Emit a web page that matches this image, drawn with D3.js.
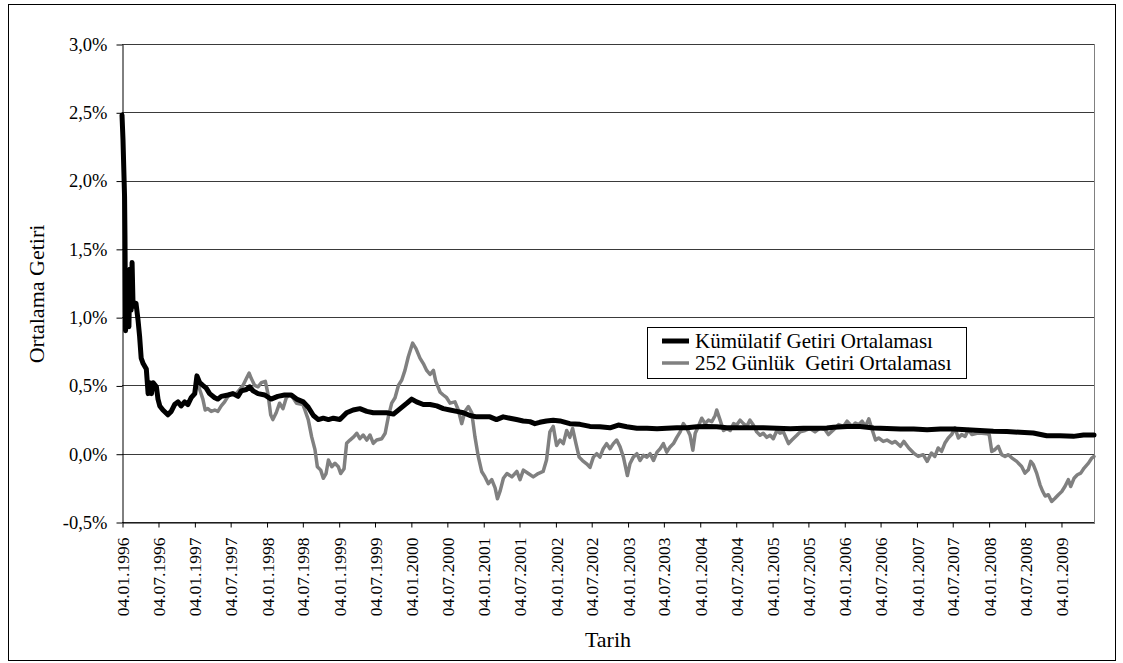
<!DOCTYPE html>
<html>
<head>
<meta charset="utf-8">
<script src="https://cdn.jsdelivr.net/npm/d3@7"></script>
<style>
  html, body { margin: 0; padding: 0; background: #fff; }
  svg { display: block; }
  svg text { font-family: "Liberation Serif", "Times New Roman", serif; fill: #000; }
</style>
</head>
<body>
<svg id="chart" width="1123" height="663"></svg>
<script>
// Axis labels
const xTickLabels = [
  "04.01.1996", "04.07.1996", "04.01.1997", "04.07.1997", "04.01.1998", "04.07.1998",
  "04.01.1999", "04.07.1999", "04.01.2000", "04.07.2000", "04.01.2001", "04.07.2001",
  "04.01.2002", "04.07.2002", "04.01.2003", "04.07.2003", "04.01.2004", "04.07.2004",
  "04.01.2005", "04.07.2005", "04.01.2006", "04.07.2006", "04.01.2007", "04.07.2007",
  "04.01.2008", "04.07.2008", "04.01.2009"
];
const yTickValues = [-0.5, 0, 0.5, 1.0, 1.5, 2.0, 2.5, 3.0];
const seriesNames = ["Kümülatif Getiri Ortalaması", "252 Günlük  Getiri Ortalaması"];
const xTitle = "Tarih";
const yTitle = "Ortalama Getiri";

// Cumulative average return (%)
const kumulatif = [
  ["1996-01-04", 2.48], ["1996-01-09", 2.30], ["1996-01-17", 1.88], ["1996-01-19", 1.60],
  ["1996-01-22", 0.90], ["1996-01-26", 1.25], ["1996-01-29", 0.95], ["1996-02-03", 1.32],
  ["1996-02-08", 0.93], ["1996-02-13", 1.35], ["1996-02-19", 1.05], ["1996-02-24", 1.40],
  ["1996-02-29", 1.08], ["1996-03-07", 1.08], ["1996-03-15", 1.10], ["1996-03-25", 0.98],
  ["1996-04-02", 0.86], ["1996-04-10", 0.70], ["1996-04-20", 0.66], ["1996-05-06", 0.62],
  ["1996-05-15", 0.44], ["1996-05-23", 0.52], ["1996-06-01", 0.44], ["1996-06-09", 0.52],
  ["1996-06-26", 0.49], ["1996-07-04", 0.40], ["1996-07-13", 0.35], ["1996-07-29", 0.32],
  ["1996-08-23", 0.285], ["1996-09-09", 0.31], ["1996-09-26", 0.36], ["1996-10-13", 0.38],
  ["1996-10-29", 0.35], ["1996-11-16", 0.38], ["1996-12-02", 0.36], ["1996-12-19", 0.41],
  ["1997-01-06", 0.44], ["1997-01-17", 0.57], ["1997-01-31", 0.52], ["1997-02-16", 0.50],
  ["1997-03-05", 0.48], ["1997-03-22", 0.44], ["1997-04-17", 0.41], ["1997-05-03", 0.40],
  ["1997-05-20", 0.42], ["1997-06-23", 0.43], ["1997-07-18", 0.44], ["1997-08-13", 0.42],
  ["1997-08-29", 0.46], ["1997-09-24", 0.47], ["1997-10-11", 0.49], ["1997-10-28", 0.46],
  ["1997-11-22", 0.44], ["1997-12-26", 0.43], ["1998-01-27", 0.40], ["1998-03-02", 0.42],
  ["1998-04-05", 0.43], ["1998-05-09", 0.43], ["1998-06-05", 0.40], ["1998-07-09", 0.38],
  ["1998-08-03", 0.34], ["1998-08-29", 0.28], ["1998-09-23", 0.25], ["1998-10-18", 0.26],
  ["1998-11-13", 0.25], ["1998-12-08", 0.26], ["1999-01-10", 0.25], ["1999-02-13", 0.30],
  ["1999-03-18", 0.32], ["1999-04-21", 0.33], ["1999-05-26", 0.31], ["1999-06-28", 0.30],
  ["1999-08-02", 0.30], ["1999-09-04", 0.30], ["1999-10-08", 0.29], ["1999-11-11", 0.33],
  ["1999-12-15", 0.37], ["2000-01-08", 0.40], ["2000-02-02", 0.38], ["2000-03-07", 0.36],
  ["2000-04-10", 0.36], ["2000-05-14", 0.35], ["2000-06-16", 0.33], ["2000-07-20", 0.32],
  ["2000-08-23", 0.31], ["2000-09-25", 0.30], ["2000-10-29", 0.28], ["2000-12-02", 0.27],
  ["2001-01-04", 0.27], ["2001-02-07", 0.27], ["2001-03-12", 0.25], ["2001-04-15", 0.27],
  ["2001-05-19", 0.26], ["2001-06-21", 0.25], ["2001-07-25", 0.24], ["2001-08-28", 0.235],
  ["2001-09-22", 0.22], ["2001-10-17", 0.23], ["2001-11-20", 0.24], ["2001-12-24", 0.245],
  ["2002-01-27", 0.24], ["2002-03-18", 0.22], ["2002-05-08", 0.215], ["2002-06-28", 0.20],
  ["2002-08-17", 0.197], ["2002-10-07", 0.19], ["2002-11-18", 0.21], ["2002-12-31", 0.197],
  ["2003-02-20", 0.187], ["2003-04-12", 0.187], ["2003-06-02", 0.182], ["2003-07-21", 0.187],
  ["2003-09-10", 0.19], ["2003-10-31", 0.19], ["2003-12-20", 0.197], ["2004-02-08", 0.20],
  ["2004-03-30", 0.197], ["2004-05-20", 0.19], ["2004-07-09", 0.19], ["2004-09-14", 0.19],
  ["2004-11-20", 0.19], ["2005-01-28", 0.187], ["2005-04-06", 0.182], ["2005-06-12", 0.187],
  ["2005-08-18", 0.187], ["2005-10-08", 0.188], ["2005-11-11", 0.194], ["2006-01-18", 0.20],
  ["2006-03-26", 0.20], ["2006-06-02", 0.189], ["2006-08-08", 0.184], ["2006-10-15", 0.181],
  ["2006-12-21", 0.181], ["2007-02-27", 0.176], ["2007-05-05", 0.181], ["2007-07-09", 0.181],
  ["2007-09-15", 0.176], ["2007-11-21", 0.17], ["2008-01-28", 0.164], ["2008-04-05", 0.162],
  ["2008-06-11", 0.157], ["2008-08-17", 0.152], ["2008-10-24", 0.132], ["2008-12-30", 0.132],
  ["2009-03-08", 0.127], ["2009-04-28", 0.137], ["2009-06-20", 0.137]
];

// 252-day rolling average return (%)
const gunluk252 = [
  ["1997-01-06", 0.44], ["1997-01-17", 0.54], ["1997-01-31", 0.47], ["1997-02-16", 0.40],
  ["1997-02-28", 0.32], ["1997-03-13", 0.33], ["1997-03-30", 0.31], ["1997-04-17", 0.32],
  ["1997-05-03", 0.31], ["1997-05-20", 0.35], ["1997-06-06", 0.38], ["1997-06-23", 0.42],
  ["1997-07-10", 0.44], ["1997-08-04", 0.44], ["1997-08-21", 0.47], ["1997-09-07", 0.50],
  ["1997-09-24", 0.55], ["1997-10-08", 0.59], ["1997-10-19", 0.55], ["1997-11-05", 0.50],
  ["1997-11-22", 0.49], ["1997-12-09", 0.52], ["1997-12-29", 0.53], ["1998-01-11", 0.44],
  ["1998-01-25", 0.285], ["1998-02-05", 0.25], ["1998-02-22", 0.30], ["1998-03-11", 0.37],
  ["1998-03-28", 0.33], ["1998-04-14", 0.41], ["1998-05-01", 0.43], ["1998-05-18", 0.41],
  ["1998-06-05", 0.37], ["1998-07-07", 0.36], ["1998-07-17", 0.32], ["1998-08-03", 0.25],
  ["1998-08-20", 0.125], ["1998-09-06", 0.03], ["1998-09-18", -0.095], ["1998-10-05", -0.12],
  ["1998-10-18", -0.18], ["1998-11-01", -0.145], ["1998-11-13", -0.046], ["1998-11-30", -0.095],
  ["1998-12-16", -0.07], ["1999-01-02", -0.095], ["1999-01-14", -0.145], ["1999-01-31", -0.11],
  ["1999-02-13", 0.076], ["1999-03-02", 0.10], ["1999-03-22", 0.125], ["1999-04-05", 0.15],
  ["1999-04-21", 0.11], ["1999-05-08", 0.137], ["1999-05-26", 0.10], ["1999-06-11", 0.137],
  ["1999-06-28", 0.076], ["1999-07-15", 0.10], ["1999-08-10", 0.11], ["1999-08-27", 0.15],
  ["1999-09-12", 0.27], ["1999-09-29", 0.37], ["1999-10-16", 0.41], ["1999-11-02", 0.50],
  ["1999-11-19", 0.54], ["1999-12-05", 0.61], ["1999-12-22", 0.71], ["2000-01-13", 0.81],
  ["2000-01-30", 0.77], ["2000-02-19", 0.70], ["2000-03-07", 0.66], ["2000-03-24", 0.61],
  ["2000-04-10", 0.58], ["2000-04-27", 0.61], ["2000-05-09", 0.53], ["2000-05-31", 0.45],
  ["2000-06-16", 0.43], ["2000-07-03", 0.41], ["2000-07-20", 0.37], ["2000-08-14", 0.38],
  ["2000-08-31", 0.32], ["2000-09-17", 0.22], ["2000-10-04", 0.31], ["2000-10-21", 0.345],
  ["2000-11-07", 0.30], ["2000-11-23", 0.125], ["2000-12-10", -0.022], ["2000-12-27", -0.13],
  ["2001-01-13", -0.17], ["2001-01-30", -0.22], ["2001-02-16", -0.19], ["2001-03-05", -0.25],
  ["2001-03-17", -0.33], ["2001-03-31", -0.27], ["2001-04-16", -0.18], ["2001-05-04", -0.145],
  ["2001-05-29", -0.17], ["2001-06-23", -0.13], ["2001-07-09", -0.19], ["2001-07-26", -0.12],
  ["2001-08-20", -0.145], ["2001-09-14", -0.17], ["2001-10-09", -0.145], ["2001-11-03", -0.13],
  ["2001-11-20", -0.046], ["2001-12-07", 0.16], ["2001-12-24", 0.20], ["2002-01-10", 0.06],
  ["2002-01-27", 0.10], ["2002-02-13", 0.074], ["2002-03-02", 0.17], ["2002-03-18", 0.12],
  ["2002-04-01", 0.185], ["2002-04-18", 0.074], ["2002-05-04", -0.025], ["2002-05-21", -0.05],
  ["2002-06-11", -0.074], ["2002-06-28", -0.10], ["2002-07-15", -0.025], ["2002-08-01", 0.0],
  ["2002-08-17", -0.025], ["2002-09-03", 0.037], ["2002-09-20", 0.074], ["2002-10-07", 0.037],
  ["2002-10-24", 0.074], ["2002-11-10", 0.10], ["2002-11-27", 0.05], ["2002-12-14", -0.025],
  ["2003-01-03", -0.16], ["2003-01-16", -0.074], ["2003-02-02", -0.025], ["2003-02-20", 0.0],
  ["2003-03-08", -0.05], ["2003-03-25", -0.012], ["2003-04-12", -0.025], ["2003-04-28", 0.0],
  ["2003-05-15", -0.05], ["2003-06-02", 0.012], ["2003-06-18", 0.037], ["2003-07-04", 0.074],
  ["2003-07-21", 0.012], ["2003-08-07", 0.05], ["2003-08-24", 0.074], ["2003-09-10", 0.12],
  ["2003-09-27", 0.16], ["2003-10-13", 0.22], ["2003-10-31", 0.185], ["2003-11-16", 0.135],
  ["2003-11-30", 0.025], ["2003-12-12", 0.15], ["2003-12-28", 0.20], ["2004-01-14", 0.26],
  ["2004-01-31", 0.22], ["2004-02-17", 0.246], ["2004-03-05", 0.234], ["2004-03-22", 0.28],
  ["2004-03-30", 0.32], ["2004-04-16", 0.246], ["2004-05-03", 0.17], ["2004-05-20", 0.185],
  ["2004-06-06", 0.17], ["2004-06-23", 0.22], ["2004-07-09", 0.21], ["2004-07-26", 0.246],
  ["2004-08-12", 0.22], ["2004-08-29", 0.20], ["2004-09-14", 0.246], ["2004-10-01", 0.21],
  ["2004-10-18", 0.16], ["2004-11-04", 0.135], ["2004-11-20", 0.15], ["2004-12-08", 0.12],
  ["2004-12-25", 0.135], ["2005-01-10", 0.11], ["2005-01-28", 0.17], ["2005-02-13", 0.15],
  ["2005-03-02", 0.16], ["2005-03-28", 0.074], ["2005-04-14", 0.10], ["2005-05-09", 0.135],
  ["2005-05-26", 0.16], ["2005-06-20", 0.17], ["2005-07-15", 0.185], ["2005-08-09", 0.16],
  ["2005-09-04", 0.19], ["2005-09-29", 0.176], ["2005-10-16", 0.14], ["2005-11-11", 0.176],
  ["2005-12-06", 0.213], ["2005-12-31", 0.20], ["2006-01-18", 0.238], ["2006-02-12", 0.20],
  ["2006-03-01", 0.225], ["2006-03-18", 0.213], ["2006-04-04", 0.238], ["2006-04-21", 0.20],
  ["2006-05-08", 0.255], ["2006-05-25", 0.176], ["2006-06-11", 0.10], ["2006-06-27", 0.115],
  ["2006-07-20", 0.09], ["2006-08-08", 0.10], ["2006-09-02", 0.078], ["2006-09-19", 0.09],
  ["2006-10-15", 0.054], ["2006-11-01", 0.09], ["2006-11-26", 0.042], ["2006-12-21", 0.005],
  ["2007-01-13", -0.02], ["2007-02-07", -0.007], ["2007-02-27", -0.056], ["2007-03-21", 0.005],
  ["2007-04-07", -0.02], ["2007-04-24", 0.042], ["2007-05-11", 0.017], ["2007-05-28", 0.078],
  ["2007-06-14", 0.115], ["2007-07-01", 0.14], ["2007-07-18", 0.189], ["2007-08-04", 0.115],
  ["2007-08-21", 0.14], ["2007-09-07", 0.127], ["2007-09-24", 0.176], ["2007-10-11", 0.14],
  ["2007-11-06", 0.15], ["2007-12-01", 0.15], ["2007-12-26", 0.147], ["2008-01-07", 0.14],
  ["2008-01-20", 0.017], ["2008-02-05", 0.03], ["2008-02-22", 0.054], ["2008-03-10", -0.007],
  ["2008-03-27", -0.02], ["2008-04-13", -0.007], ["2008-04-30", -0.03], ["2008-05-25", -0.056],
  ["2008-06-19", -0.093], ["2008-07-06", -0.142], ["2008-07-23", -0.118], ["2008-08-04", -0.056],
  ["2008-08-17", -0.08], ["2008-09-03", -0.142], ["2008-09-20", -0.228], ["2008-10-04", -0.277],
  ["2008-10-16", -0.31], ["2008-11-01", -0.30], ["2008-11-18", -0.35], ["2008-12-05", -0.326],
  ["2008-12-22", -0.30], ["2009-01-08", -0.277], ["2009-01-24", -0.24], ["2009-02-10", -0.19],
  ["2009-02-22", -0.24], ["2009-03-11", -0.18], ["2009-03-28", -0.154], ["2009-04-14", -0.142],
  ["2009-05-01", -0.105], ["2009-05-23", -0.069], ["2009-06-09", -0.032], ["2009-06-20", -0.02]
];

const parseISO = d3.timeParse("%Y-%m-%d");
const parseTick = d3.timeParse("%d.%m.%Y");
const formatTick = d3.timeFormat("%d.%m.%Y");

const cumSeries = kumulatif.map(([d, v]) => ({ date: parseISO(d), value: v }));
const rollSeries = gunluk252.map(([d, v]) => ({ date: parseISO(d), value: v }));

const plot = { left: 122, right: 1094, top: 44, bottom: 522 };
const serif = '"Liberation Serif", "Times New Roman", serif';

const svg = d3.select("#chart");

// outer frame
svg.append("rect")
  .attr("x", 8.5).attr("y", 4.5)
  .attr("width", 1107).attr("height", 656)
  .attr("fill", "#fff").attr("stroke", "#000").attr("stroke-width", 1);

const x = d3.scaleTime()
  .domain(d3.extent(cumSeries, d => d.date))
  .range([plot.left, plot.right]);

const y = d3.scaleLinear()
  .domain([d3.min(yTickValues), d3.max(yTickValues)])
  .range([plot.bottom, plot.top]);

// horizontal gridlines
svg.append("g")
  .selectAll("line")
  .data(yTickValues)
  .join("line")
  .attr("x1", plot.left).attr("x2", plot.right)
  .attr("y1", d => Math.round(y(d)) + 0.5).attr("y2", d => Math.round(y(d)) + 0.5)
  .attr("stroke", "#3a3a3a").attr("stroke-width", 1);

// right border of the plot area
svg.append("line")
  .attr("x1", plot.right + 0.5).attr("x2", plot.right + 0.5)
  .attr("y1", plot.top).attr("y2", plot.bottom)
  .attr("stroke", "#808080").attr("stroke-width", 1);

// y axis
const yFmt = d => d3.format(".1f")(d).replace(".", ",").replace("−", "-") + "%";
const yAxis = svg.append("g")
  .attr("transform", `translate(${plot.left + 0.5},0.5)`)
  .call(d3.axisLeft(y).tickValues(yTickValues).tickSize(6).tickSizeOuter(0).tickPadding(9).tickFormat(yFmt));
yAxis.attr("font-family", null).attr("font-size", null);
yAxis.select(".domain").attr("stroke", "#000");
yAxis.selectAll(".tick line").attr("stroke", "#000");
yAxis.selectAll("text")
  .style("font-family", serif)
  .style("font-size", "18.5px").attr("fill", "#000");

// x axis
const xAxis = svg.append("g")
  .attr("transform", `translate(0.5,${plot.bottom + 0.5})`)
  .call(d3.axisBottom(x).tickValues(xTickLabels.map(parseTick)).tickSize(5).tickSizeOuter(0).tickFormat(formatTick));
xAxis.attr("font-family", null).attr("font-size", null);
xAxis.select(".domain").attr("stroke", "#000");
xAxis.selectAll(".tick line").attr("stroke", "#000");
xAxis.selectAll("text")
  .style("font-family", serif)
  .style("font-size", "17.5px").attr("fill", "#000")
  .attr("transform", "rotate(-90)")
  .attr("x", -15).attr("y", 0).attr("dy", "0.35em")
  .attr("text-anchor", "end");

// series lines
const line = d3.line().x(d => x(d.date)).y(d => y(d.value));

svg.append("path")
  .datum(rollSeries)
  .attr("d", line)
  .attr("fill", "none").attr("stroke", "#808080")
  .attr("stroke-width", 3.5).attr("stroke-linejoin", "round").attr("stroke-linecap", "round");

svg.append("path")
  .datum(cumSeries)
  .attr("d", line)
  .attr("fill", "none").attr("stroke", "#000")
  .attr("stroke-width", 5).attr("stroke-linejoin", "round").attr("stroke-linecap", "round");

// axis titles
svg.append("text")
  .attr("x", (plot.left + plot.right) / 2).attr("y", 647)
  .attr("text-anchor", "middle")
  .style("font-family", serif).style("font-size", "22px")
  .text(xTitle);

svg.append("text")
  .attr("transform", `translate(44,294) rotate(-90)`)
  .attr("text-anchor", "middle")
  .style("font-family", serif).style("font-size", "22px")
  .text(yTitle);

// legend
const legend = svg.append("g");
legend.append("rect")
  .attr("x", 647.5).attr("y", 327.5).attr("width", 319).attr("height", 51)
  .attr("fill", "#fff").attr("stroke", "#000").attr("stroke-width", 1);

const legendItems = [
  { name: seriesNames[0], color: "#000", width: 5, y: 341 },
  { name: seriesNames[1], color: "#808080", width: 3.5, y: 363 }
];
const li = legend.selectAll("g.item").data(legendItems).join("g").attr("class", "item");
li.append("line")
  .attr("x1", 662).attr("x2", 689)
  .attr("y1", d => d.y).attr("y2", d => d.y)
  .attr("stroke", d => d.color).attr("stroke-width", d => d.width);
li.append("text")
  .attr("x", 695).attr("y", d => d.y)
  .attr("dy", "0.35em")
  .style("font-family", serif).style("font-size", "21px")
  .style("white-space", "pre")
  .text(d => d.name);
</script>
</body>
</html>
